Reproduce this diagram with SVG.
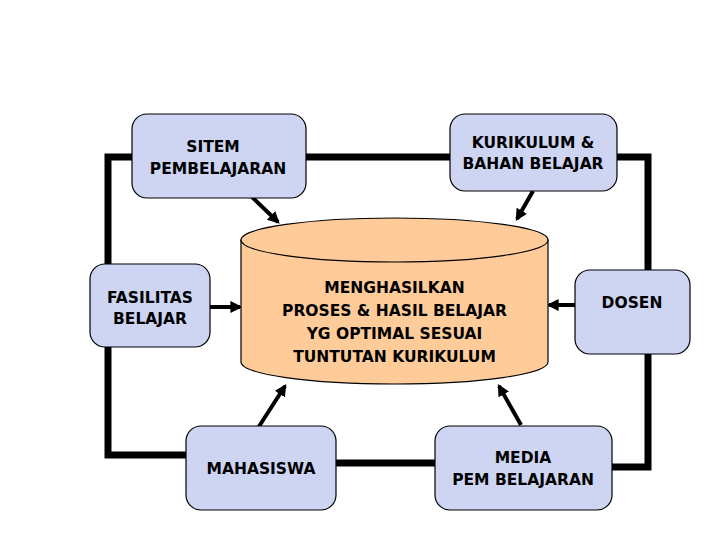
<svg xmlns="http://www.w3.org/2000/svg" width="720" height="540" viewBox="0 0 720 540">
<style>
.box{fill:#cdd5f3;stroke:#000;stroke-width:1.2}
.t{font-family:"DejaVu Sans",Verdana,sans-serif;font-weight:bold;font-size:15.5px;fill:#000;text-anchor:middle}
.loop{fill:none;stroke:#000;stroke-width:7;stroke-linecap:square}
.arr{stroke:#000;stroke-width:4;marker-end:url(#ah)}
</style>
<defs>
<marker id="ah" viewBox="0 0 10 10" refX="8" refY="5" markerWidth="3" markerHeight="3" orient="auto" markerUnits="strokeWidth">
<path d="M0,0L10,5L0,10z" fill="#000"/>
</marker>
</defs>
<rect width="720" height="540" fill="#fff"/>
<g id="connectors">
<polyline class="loop" points="132,157 108,157 108,264"/>
<polyline class="loop" points="108,347 108,455 186,455"/>
<line class="loop" x1="306" y1="157" x2="450" y2="157"/>
<polyline class="loop" points="617,157 648,157 648,270"/>
<polyline class="loop" points="648,354 648,467 612,467"/>
<line class="loop" x1="336" y1="463" x2="435" y2="463"/>
<line class="arr" x1="252" y1="197" x2="278" y2="222"/>
<line class="arr" x1="533" y1="191" x2="517" y2="219"/>
<line class="arr" x1="210" y1="307" x2="240" y2="307"/>
<line class="arr" x1="576" y1="305" x2="549" y2="305"/>
<line class="arr" x1="258" y1="428" x2="285" y2="386"/>
<line class="arr" x1="521" y1="425" x2="499" y2="386"/>
</g>
<g id="center">
<path d="M241,240 L241,362 A153.5,22 0 0 0 548,362 L548,240 Z" fill="#ffcc99" stroke="#000" stroke-width="1.2"/>
<ellipse cx="394.5" cy="240" rx="153.5" ry="22" fill="#ffcc99" stroke="#000" stroke-width="1.2"/>
<text class="t" x="394.5" y="293">MENGHASILKAN</text>
<text class="t" x="394.5" y="316">PROSES &amp; HASIL BELAJAR</text>
<text class="t" x="394.5" y="339">YG OPTIMAL SESUAI</text>
<text class="t" x="394.5" y="362">TUNTUTAN KURIKULUM</text>
</g>
<g id="sitem"><rect class="box" x="132" y="114" width="174" height="84" rx="15"/>
<text class="t" x="213" y="152">SITEM</text><text class="t" x="218" y="174">PEMBELAJARAN</text></g>
<g id="kurikulum"><rect class="box" x="450" y="114" width="167" height="77" rx="15"/>
<text class="t" x="533" y="148">KURIKULUM &amp;</text><text class="t" x="533" y="169">BAHAN  BELAJAR</text></g>
<g id="fasilitas"><rect class="box" x="90" y="264" width="120" height="83" rx="15"/>
<text class="t" x="150" y="303">FASILITAS</text><text class="t" x="150" y="324">BELAJAR</text></g>
<g id="dosen"><rect class="box" x="575" y="270" width="115" height="84" rx="15"/>
<text class="t" x="632" y="308">DOSEN</text></g>
<g id="mahasiswa"><rect class="box" x="186" y="426" width="150" height="84" rx="15"/>
<text class="t" x="261" y="474">MAHASISWA</text></g>
<g id="media"><rect class="box" x="435" y="426" width="177" height="84" rx="15"/>
<text class="t" x="523" y="463">MEDIA</text><text class="t" x="523" y="485">PEM BELAJARAN</text></g>
</svg>
